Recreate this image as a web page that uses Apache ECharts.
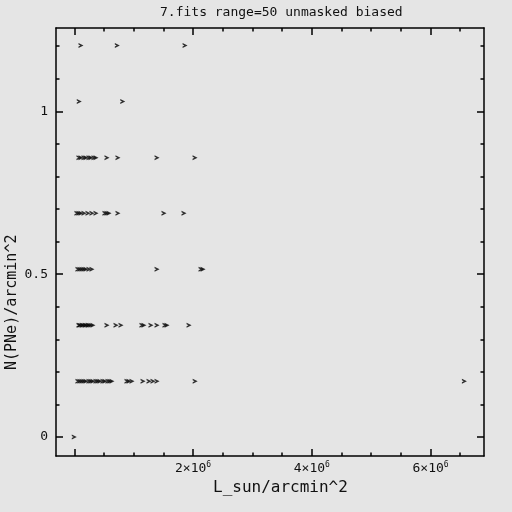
<!DOCTYPE html>
<html><head><meta charset="utf-8">
<script src="https://cdn.jsdelivr.net/npm/echarts@6/dist/echarts.min.js"></script>
<style>html,body{margin:0;padding:0;background:#e5e5e5}#c{width:512px;height:512px}</style>
</head><body><div id="c"></div>
<script>
// N(PNe)/arcmin^2 levels for each row
const rowLevels = [0, 0.1717, 0.3434, 0.515, 0.687, 0.858, 1.030, 1.202];
// L_sun/arcmin^2 values in units of 1e6, one list per row
const row0 = [0.0];
const row1 = [0.062,0.096,0.13,0.164,0.197,0.248,0.281,0.315,0.366,0.399,0.433,0.484,0.517,0.568,0.601,0.635,0.888,0.922,0.972,1.158,1.259,1.326,1.394,2.036,6.57];
const row2 = [0.079,0.096,0.13,0.147,0.18,0.197,0.231,0.248,0.281,0.315,0.551,0.703,0.787,1.14,1.174,1.292,1.394,1.528,1.562,1.933];
const row3 = [0.062,0.096,0.13,0.164,0.197,0.248,0.298,1.394,2.135,2.169];
const row4 = [0.045,0.079,0.113,0.164,0.231,0.298,0.366,0.517,0.551,0.585,0.736,1.511,1.848];
const row5 = [0.079,0.113,0.164,0.197,0.248,0.281,0.332,0.366,0.551,0.736,1.394,2.034];
const row6 = [0.084,0.816];
const row7 = [0.113,0.725,1.866];
const rows = [row0,row1,row2,row3,row4,row5,row6,row7];

const xMajorTicks = [0,2,4,6];
const xMinorTicks = [0.5,1,1.5,2.5,3,3.5,4.5,5,5.5,6.5];
const xTickLabels = [2,4,6];
const yMajorTicks = [0,0.5,1];
const yMinorTicks = [0.1,0.2,0.3,0.4,0.6,0.7,0.8,0.9,1.1,1.2];
const yTickLabels = [0,0.5,1];

const xMin = -0.308, xMax = 6.9;
const yMin = -0.058, yMax = 1.256;

const data = [];
rows.forEach((r,i)=>r.forEach(x=>data.push([x,rowLevels[i]])));

const mono = 'DejaVu Sans Mono';
const black = '#000';
function axisX(pos, major, labels){
  return {
    type:'value', min:xMin, max:xMax, position:pos,
    splitLine:{show:false},
    axisLine:{show:major, onZero:false, lineStyle:{color:black,width:1.5}},
    axisTick:{show:true, inside:true, length:major?7:3.5, customValues: major?xMajorTicks:xMinorTicks, lineStyle:{color:black,width:1.5}},
    axisLabel: labels ? {show:true, customValues:xTickLabels, margin:5,
      formatter: v=>'{n|'+v+'×10}{s|6}',
      rich:{n:{fontFamily:mono,fontSize:13,color:'#111'}, s:{fontFamily:mono,fontSize:8,color:'#111',padding:[0,0,8,0]}}} : {show:false}
  };
}
function axisY(pos, major, labels){
  return {
    type:'value', min:yMin, max:yMax, position:pos,
    splitLine:{show:false},
    axisLine:{show:major, onZero:false, lineStyle:{color:black,width:1.5}},
    axisTick:{show:true, inside:true, length:major?7:3.5, customValues: major?yMajorTicks:yMinorTicks, lineStyle:{color:black,width:1.5}},
    axisLabel: labels ? {show:true, customValues:yTickLabels, margin:8, fontFamily:mono, fontSize:13, color:'#111',
      formatter: v=>String(v)} : {show:false}
  };
}

const chart = echarts.init(document.getElementById('c'), null, {renderer:'canvas'});
chart.setOption({
  backgroundColor:'#e5e5e5',
  animation:false,
  title:{text:'7.fits range=50 unmasked biased', left:155, top:1,
    textStyle:{fontFamily:mono, fontSize:13, fontWeight:'normal', color:'#111'}},
  grid:{left:56, right:28, top:28, bottom:56, containLabel:false},
  xAxis:[axisX('bottom',true,true), axisX('bottom',false,false), axisX('top',true,false), axisX('top',false,false)],
  yAxis:[axisY('left',true,true), axisY('left',false,false), axisY('right',true,false), axisY('right',false,false)],
  graphic:[
    {type:'text', left:213, top:480, style:{text:'L_sun/arcmin^2', fontFamily:mono, fontSize:16, fill:'#111'}},
    {type:'text', x:5, y:370, rotation:Math.PI/2, style:{text:'N(PNe)/arcmin^2', fontFamily:mono, fontSize:15, fill:'#111'}}
  ],
  series:[{
    type:'scatter', xAxisIndex:0, yAxisIndex:0,
    symbol:'path://M0,0L6,3L0,6L0,4.2L2.2,3L0,1.8Z', symbolSize:[5,5],
    itemStyle:{color:black}, data:data
  }]
});
</script></body></html>
